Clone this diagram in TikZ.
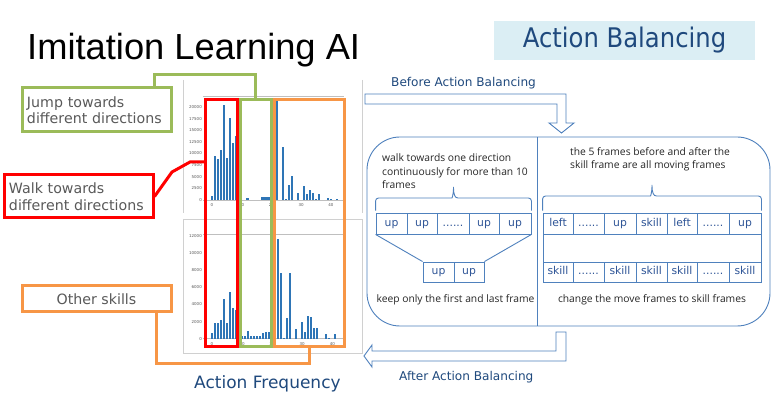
\documentclass[tikz,border=0pt]{standalone}
\usepackage{fontspec}
\setmainfont{DejaVu Sans}
\newfontfamily\arialf{Liberation Sans}
\newfontfamily\verd{DejaVu Sans}
\newfontfamily\verdn[FakeStretch=0.9]{DejaVu Sans}
\newfontfamily\segoe{Open Sans}
\definecolor{hgreen}{HTML}{9BBB59}
\definecolor{hred}{HTML}{FF0000}
\definecolor{horange}{HTML}{F79646}
\definecolor{bline}{HTML}{4F81BD}
\definecolor{barblue}{HTML}{2E75B6}
\definecolor{labgray}{HTML}{595959}
\definecolor{dblue}{HTML}{1F497D}
\definecolor{celltext}{HTML}{2F5597}
\definecolor{desctext}{HTML}{262626}
\definecolor{panelgray}{HTML}{D0D0D0}
\definecolor{gridgray}{HTML}{BFBFBF}
\definecolor{abfill}{HTML}{DBEEF4}
\begin{document}
\begin{tikzpicture}[x=1pt,y=-1pt,
  lbl/.style={rectangle, line width=3pt, fill=white, inner xsep=5pt, inner ysep=0pt,
    font=\verd\fontsize{14.2}{16.5}\selectfont, text=labgray},
  hl/.style={rectangle, draw, line width=3pt, inner sep=0pt},
  conn/.style={line width=3pt},
  cell/.style={rectangle, draw=bline, line width=0.9pt, inner sep=0pt, text=celltext,
    font=\verd\fontsize{10.8}{13}\selectfont, text height=8pt, text depth=2.3pt},
  desc/.style={font=\segoe\fontsize{10.3}{13.4}\selectfont, text=desctext, inner sep=0pt},
  bluetext/.style={text=dblue, inner sep=0pt},
  tick/.style={font=\verd\fontsize{4}{4}\selectfont, text=labgray, inner sep=0pt},
  outline/.style={draw=bline, line width=0.9pt},
  panel/.style={draw=panelgray, line width=0.8pt},
  grid/.style={draw=gridgray, line width=0.6pt}
]
\useasboundingbox (0,0) rectangle (771,395);
\fill[white] (0,0) rectangle (771,395);

% title
\node[anchor=base west, inner sep=0pt, font=\arialf\fontsize{36.3}{40}\selectfont] (title) at (27,60) {Imitation Learning AI};
\node[rectangle, fill=abfill, minimum width=261pt, minimum height=39pt, inner sep=0pt,
  text=dblue, font=\verdn\fontsize{27}{30}\selectfont] (abox) at (624.5,40.5) {Action Balancing};

% chart panels
\draw[panel] (183,80) -- (183,213);
\draw[panel] (362,80) -- (362,213);
\draw[panel] (183,219) -- (362,219);
\draw[panel] (183,219) -- (183,353) -- (362,353) -- (362,219);

% top chart
\draw[grid] (203,96) -- (344,96);
\draw[grid] (203,200) -- (344,200);
\foreach \i/\h in {0/4,1/44,2/40.7,3/49.7,4/95,5/42,6/82,7/57.3,8/63.7,12/2,17/2.7,18/2.7,19/2.7,20/2.7,22/99,24/53.3,25/1.3,26/15,27/24,29/6.7,31/13.7,32/6,33/10,34/7.3,35/0.7,36/6.3,39/1.7,40/0.7,42/1}
  \fill[barblue] ({212+2.97*\i-1.15},200) rectangle ({212+2.97*\i+1.15},{200-\h});
\foreach \v [count=\k from 0] in {0,2500,5000,7500,10000,12500,15000,17500,20000}
  \node[tick, anchor=east] (ty\k) at (202,{200-\k*11.625}) {\v};
\foreach \v [count=\k from 0] in {0,10,20,30,40}
  \node[tick] (tx\k) at ({212+29.7*\k},205) {\v};

% bottom chart
\draw[grid] (203,234) -- (344,234);
\draw[grid] (203,338.7) -- (344,338.7);
\foreach \i/\h in {0/6,1/15.7,2/15.7,3/18.7,4/39.7,5/15.3,6/46.7,7/31,8/29,10/2.3,11/2.3,12/8,13/2.3,14/2.7,15/2.3,16/3,17/5.7,18/6.7,19/7,22/99.3,23/65.7,24/1,25/21,26/65.3,28/9.3,30/16.7,31/7,32/22.7,33/21.3,34/10.7,35/10.7,38/4.7,39/0.7,41/4.7}
  \fill[barblue] ({212+3.008*\i-1.15},338.7) rectangle ({212+3.008*\i+1.15},{338.7-\h});
\foreach \v [count=\k from 0] in {0,2000,4000,6000,8000,10000,12000}
  \node[tick, anchor=east] (by\k) at (202,{338.7-\k*17.117}) {\v};
\foreach \v [count=\k from 0] in {0,10,20,30,40}
  \node[tick] (bx\k) at ({212+30.08*\k},344) {\v};

% highlight rectangles
\node[hl, draw=hred, minimum width=31.5pt, minimum height=247pt] (redrect) at (221.55,223) {};
\node[hl, draw=hgreen, minimum width=31pt, minimum height=247pt] (greenrect) at (255.5,223) {};
\node[hl, draw=horange, minimum width=69.8pt, minimum height=247pt] (orangerect) at (309.4,223) {};

% label boxes
\node[lbl, draw=hgreen, minimum width=149pt, minimum height=44pt, text width=139pt, align=left] (jump) at (96.5,110) {Jump towards\\different directions};
\node[lbl, draw=hred, minimum width=149pt, minimum height=43pt, text width=139pt, align=left] (walk) at (78.5,196.5) {Walk towards\\different directions};
\node[lbl, draw=horange, minimum width=149pt, minimum height=26pt, align=center] (other) at (96.5,299) {Other skills};

% connectors
\coordinate (g1) at (154,75);
\draw[conn, hgreen] (jump.north -| g1) -- (g1) -| (greenrect.north);
\coordinate (r1) at (172,172);
\coordinate (r2) at (190,162);
\draw[conn, hred] (walk.east) -- (r1) -- (r2) -- (redrect.west |- r2);
\coordinate (o1) at (156,363);
\draw[conn, horange] (other.south -| o1) -- (o1) -| (orangerect.south);

\node[bluetext, anchor=base west, font=\verd\fontsize{17}{20}\selectfont] (freq) at (194,388) {Action Frequency};

% right side
\node[bluetext, anchor=base west, font=\verd\fontsize{12.1}{14}\selectfont] (before) at (391,87) {Before Action Balancing};
\node[bluetext, anchor=base west, font=\verd\fontsize{12.1}{14}\selectfont] (after) at (399,380) {After Action Balancing};

\draw[outline] (365,94) -- (566,94) -- (566,123) -- (574,123) -- (561.5,133) -- (549,123) -- (557,123) -- (557,104) -- (365,104) -- cycle;
\draw[outline] (556,332) -- (566,332) -- (566,361) -- (372,361) -- (372,367) -- (364,356) -- (372,345) -- (372,351) -- (556,351) -- cycle;

\draw[outline, rounded corners=33pt] (367,137) rectangle (770,326);
\draw[outline] (537,137) -- (537,326);

% left section
\node[desc, anchor=north west, align=left] (walktext) at (382,153.8) {walk towards one direction\\continuously for more than 10\\frames};
\node[cell, minimum width=31pt, minimum height=21pt] (l1) at (391.5,223.5) {up};
\node[cell, minimum width=30pt, minimum height=21pt] (l2) at (422,223.5) {up};
\node[cell, minimum width=32pt, minimum height=21pt] (l3) at (453,223.5) {......};
\node[cell, minimum width=30pt, minimum height=21pt] (l4) at (484,223.5) {up};
\node[cell, minimum width=32pt, minimum height=21pt] (l5) at (515,223.5) {up};
\node[cell, minimum width=31pt, minimum height=20pt] (k1) at (438.5,272) {up};
\node[cell, minimum width=30pt, minimum height=20pt] (k2) at (469,272) {up};
\draw[outline] (l1.south west) -- (k1.north west);
\draw[outline] (l5.south east) -- (k2.north east);
\draw[outline] ([yshift=2pt]l1.north west) [rounded corners=3pt] |- (449,198) [sharp corners] .. controls (452,198) and (453.5,195) .. (453.5,187) .. controls (453.5,195) and (455,198) .. (458,198) [rounded corners=3pt] -| ([yshift=2pt]l5.north east);
\node[desc, anchor=base] (keeptext) at (455.5,303) {keep only the first and last frame};

% right section
\node[desc, anchor=north west, align=left] (movetext) at (570,147) {the 5 frames before and after the\\skill frame are all moving frames};
\node[cell, minimum width=30pt, minimum height=21pt] (t1) at (558,223.5) {left};
\node[cell, minimum width=31pt, minimum height=21pt] (t2) at (588.5,223.5) {......};
\node[cell, minimum width=32pt, minimum height=21pt] (t3) at (620,223.5) {up};
\node[cell, minimum width=31pt, minimum height=21pt] (t4) at (651.5,223.5) {skill};
\node[cell, minimum width=30pt, minimum height=21pt] (t5) at (682,223.5) {left};
\node[cell, minimum width=32pt, minimum height=21pt] (t6) at (713,223.5) {......};
\node[cell, minimum width=32pt, minimum height=21pt] (t7) at (745,223.5) {up};
\node[cell, minimum width=218pt, minimum height=28pt] (mid) at (652,248) {};
\node[cell, minimum width=30pt, minimum height=20pt] (s1) at (558,272) {skill};
\node[cell, minimum width=31pt, minimum height=20pt] (s2) at (588.5,272) {......};
\node[cell, minimum width=32pt, minimum height=20pt] (s3) at (620,272) {skill};
\node[cell, minimum width=31pt, minimum height=20pt] (s4) at (651.5,272) {skill};
\node[cell, minimum width=30pt, minimum height=20pt] (s5) at (682,272) {skill};
\node[cell, minimum width=32pt, minimum height=20pt] (s6) at (713,272) {......};
\node[cell, minimum width=32pt, minimum height=20pt] (s7) at (745,272) {skill};
\draw[outline] ([yshift=2pt]t1.north west) [rounded corners=3pt] |- (647.5,196) [sharp corners] .. controls (650.5,196) and (652,193) .. (652,185) .. controls (652,193) and (653.5,196) .. (656.5,196) [rounded corners=3pt] -| ([yshift=2pt]t7.north east);
\node[desc, anchor=base] (changetext) at (652,303) {change the move frames to skill frames};
\end{tikzpicture}
\end{document}
